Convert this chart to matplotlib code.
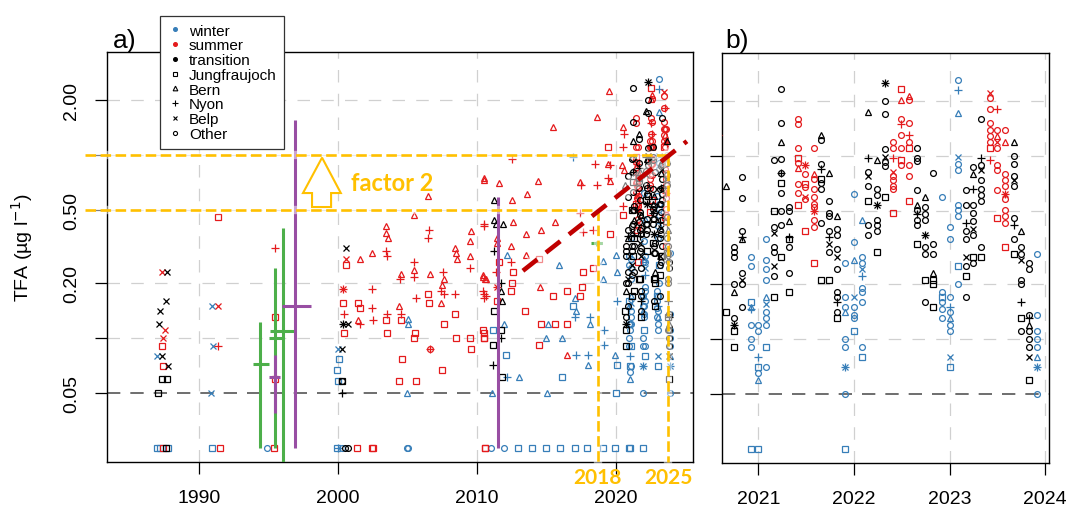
import matplotlib
matplotlib.use("Agg")
import matplotlib.pyplot as plt
from matplotlib.lines import Line2D
from matplotlib.patches import Polygon
import matplotlib.transforms as mtransforms

plt.rcParams["font.family"] = ["Liberation Sans", "DejaVu Sans"]

# site codes: J Jungfraujoch, B Bern, N Nyon, L Belp, O Other
# one entry per sampling column: year, TFA values (ug/l), site code per value

winter_year = [1986.96, 1987.2, 1987.8, 1990.84, 1990.9, 1990.96, 1991.03, 1994.86,
               1999.9, 2000.0, 2000.07, 2000.26, 2004.95, 2005.07, 2010.98, 2011.06,
               2011.13, 2011.94, 2012.09, 2012.13, 2012.97, 2013.05, 2013.98, 2014.96,
               2015.01, 2015.13, 2015.92, 2015.97, 2016.09, 2016.93, 2017.05, 2017.12,
               2017.94, 2018.01, 2018.13, 2019.09, 2019.14, 2019.93, 2020.0, 2020.05,
               2020.1, 2020.92, 2021.0, 2021.08, 2021.91, 2022.0, 2022.08, 2022.92,
               2023.0, 2023.09, 2023.92]
winter_tfa = [[0.08, 0.025], [0.025], [0.025], [0.05], [0.025], [0.15], [0.09], [0.025],
              [0.067, 0.025], [0.087, 0.058, 0.025], [0.077], [0.025], [0.05, 0.025],
              [0.127, 0.12, 0.025], [0.025], [0.05],
              [0.11], [0.12, 0.025], [0.081], [0.285, 0.061], [0.025], [0.061], [0.025],
              [0.10, 0.025],
              [0.05], [0.12], [0.25], [0.025], [0.10, 0.061], [0.97, 0.15],
              [0.165, 0.13, 0.025], [0.14, 0.081],
              [0.025], [0.081, 0.071], [0.13, 0.12], [0.265, 0.21, 0.025], [0.11, 0.092],
              [0.081, 0.025], [0.285, 0.05], [0.23, 0.16],
              [0.071],
              [0.28, 0.25, 0.16, 0.15, 0.145, 0.12, 0.10, 0.09, 0.025],
              [0.12, 0.11, 0.08, 0.07, 0.065, 0.06, 0.025],
              [0.35, 0.27, 0.24, 0.21, 0.17, 0.155, 0.14, 0.13, 0.12, 0.09, 0.07],
              [0.26, 0.17, 0.15, 0.14, 0.10, 0.09, 0.07, 0.07, 0.05, 0.025],
              [0.62, 0.34, 0.27, 0.17, 0.15, 0.135, 0.13, 0.11],
              [0.45, 0.28, 0.26, 0.24, 0.22, 0.19, 0.18, 0.16, 0.09, 0.08],
              [0.60, 0.18, 0.17, 0.16, 0.145, 0.13],
              [0.41, 0.35, 0.17, 0.15, 0.14, 0.13, 0.12, 0.11, 0.08, 0.07],
              [2.60, 2.30, 1.72, 0.99, 0.91, 0.84, 0.54, 0.51, 0.47, 0.25, 0.20],
              [0.29, 0.135, 0.11, 0.10, 0.09, 0.08, 0.07, 0.07, 0.05]]
winter_site = ["LJ", "J", "J", "L", "J", "L", "L", "O",
               "JJ", "LJN", "J", "O", "BO", "BBO", "O", "B",
               "J", "BO", "J", "BN", "J", "B", "J", "BJ",
               "B", "B", "B", "J", "BJ", "NJ", "BNJ", "BN",
               "J", "NB", "NB", "BBJ", "NN", "BJ", "BJ", "BN",
               "J", "OOJBNOOOJ", "OONJOBJ", "OOOOBLOOOJO", "OOOBOONLOJ", "OOBLOOOJ",
               "BOOLNOOOOJ", "OOJOOO", "OOONOBOOLJ", "ONBLOOOOOJO", "OOOOOBNLO"]

summer_year = [1987.32, 1987.37, 1987.44, 1987.56, 1991.39, 1991.4, 1991.5, 1995.38,
               1995.45, 2000.38, 2000.46, 2000.58, 2001.4, 2001.42, 2001.47, 2001.55,
               2001.6, 2002.43, 2002.55, 2003.46, 2003.5, 2003.56, 2004.42, 2004.47,
               2004.52, 2004.54, 2004.6, 2005.43, 2005.5, 2005.55, 2005.6, 2005.62,
               2006.44, 2006.51, 2006.59, 2007.43, 2007.48, 2007.55, 2007.6, 2007.64,
               2008.44, 2008.5, 2008.56, 2009.47, 2009.52, 2009.57, 2009.6, 2010.43,
               2010.46, 2010.48, 2010.5, 2010.53, 2010.58, 2010.6, 2010.65, 2011.37,
               2011.46, 2011.6, 2012.42, 2012.5, 2012.52, 2012.61, 2013.45, 2013.53,
               2013.62, 2014.41, 2014.48, 2014.53, 2014.58, 2015.44, 2015.49, 2015.61,
               2016.45, 2016.5, 2017.41, 2017.48, 2017.53, 2017.6, 2017.65, 2018.37,
               2018.49, 2018.61, 2019.45, 2019.52, 2019.57, 2020.41, 2020.48, 2020.53,
               2020.58, 2021.41, 2021.49, 2021.58, 2022.41, 2022.49, 2022.58, 2023.42,
               2023.50, 2023.58]
summer_tfa = [[0.23], [0.09], [0.10, 0.07, 0.025], [0.11], [0.15, 0.09], [0.46], [0.025], [0.025],
              [0.31, 0.13, 0.06], [0.185, 0.185, 0.155], [0.135, 0.107], [0.27, 0.25], [0.025],
              [0.126], [0.155], [0.12],
              [0.27, 0.145], [0.29, 0.185, 0.146, 0.025], [0.126, 0.025], [0.41, 0.375, 0.30, 0.126],
              [0.28, 0.135, 0.107], [0.35], [0.15, 0.058], [0.21],
              [0.126], [0.225, 0.135], [0.077], [0.47, 0.215, 0.10], [0.26, 0.235], [0.107],
              [0.058], [0.165],
              [0.60, 0.35, 0.175], [0.39, 0.155], [0.225, 0.087, 0.087], [0.18, 0.155],
              [0.195, 0.067], [0.23], [0.21, 0.12], [0.175],
              [0.31, 0.175, 0.135], [0.29, 0.10], [0.27], [0.34, 0.24, 0.10], [0.28], [0.087],
              [0.385], [0.215],
              [0.22, 0.18, 0.11], [0.73, 0.107], [0.75, 0.42, 0.10], [0.41, 0.175, 0.165, 0.10],
              [0.025], [0.21, 0.025], [0.21, 0.17], [0.23],
              [0.35, 0.33, 0.19, 0.19, 0.16], [0.70, 0.26], [0.32, 0.26, 0.18], [0.95],
              [0.57, 0.20], [0.43, 0.23], [0.14], [0.37, 0.285],
              [0.61], [0.72], [0.27, 0.092], [0.19], [0.39, 0.12], [0.17], [1.42], [0.43, 0.12],
              [0.12, 0.081], [0.18], [0.71, 0.48, 0.17], [0.69], [0.19], [0.23], [0.38],
              [0.39, 0.24],
              [0.89], [1.62, 0.69], [1.11, 0.89, 0.75], [2.24], [0.88, 0.72, 0.37], [0.88],
              [0.53], [1.42, 1.10, 0.47],
              [1.30, 0.83],
              [1.60, 1.49, 1.10, 0.97, 0.92, 0.86, 0.70, 0.63, 0.54],
              [0.89, 0.89, 0.80, 0.70, 0.68, 0.60, 0.58, 0.39],
              [1.10, 0.80, 0.75, 0.66, 0.60, 0.55, 0.53, 0.50, 0.50, 0.45, 0.41, 0.26],
              [1.20, 1.10, 0.98, 0.82, 0.78, 0.74, 0.69, 0.66, 0.49],
              [2.32, 2.02, 1.60, 1.49, 1.31, 1.10, 0.95, 0.89],
              [2.13, 2.02, 1.51, 1.31, 1.20, 1.10, 0.89, 0.78, 0.57],
              [2.22, 2.09, 1.80, 1.51, 1.39, 1.29, 1.20, 1.10, 0.95],
              [1.80, 1.39, 1.29, 1.20, 1.10, 0.89, 0.84, 0.65, 0.46],
              [1.39, 1.20, 0.80, 0.74, 0.69, 0.62, 0.62, 0.58, 0.51, 0.47, 0.43, 0.32]]
summer_site = ["L", "J", "LJJ", "L", "LN", "J", "J", "J",
               "NJJ", "NLJ", "NJ", "LJ", "J", "B", "J", "N",
               "BJ", "BNNJ", "NJ", "BBNJ", "NNJ", "B", "BJ", "N",
               "J", "BN", "J", "BNJ", "NB", "J", "J", "N",
               "BNJ", "NJ", "BON", "NB", "BJ", "N", "BJ", "N",
               "BNJ", "BJ", "B", "BNJ", "B", "J", "B", "B",
               "BNJ", "BJ", "BNJ", "NNNJ", "J", "BJ", "BN", "N",
               "BBNLJ", "BJ", "BNJ", "N", "BJ", "BJ", "J", "BB",
               "B", "B", "JJ", "B", "BJ", "J", "B", "BJ",
               "JB", "J", "BNJ", "N", "J", "J", "N", "NJ",
               "N", "BN", "JBN", "B", "NBJ", "B", "N", "BNJ",
               "NB", "OOOJOBOOJ", "NLOJOLOJ", "OBOOOOOLNOOJ", "OONLOOOOJ", "JBONOOJO",
               "BOONOJOOJ", "LOOOOOOJN", "NOBLOOOOJ", "OBOOONLOOOOJ"]

transition_year = [1987.08, 1987.13, 1987.2, 1987.32, 1987.6, 1987.63, 1987.68, 1987.8,
                   2000.26, 2000.38, 2000.5, 2000.58, 2000.75, 2011.13, 2011.22, 2011.37,
                   2011.7, 2011.77, 2011.8, 2011.85, 2020.66, 2020.74, 2020.83, 2021.16,
                   2021.24, 2021.32, 2021.66, 2021.74, 2021.82, 2022.15, 2022.24, 2022.32,
                   2022.66, 2022.74, 2022.83, 2023.17, 2023.25, 2023.33, 2023.67, 2023.75,
                   2023.83]
transition_tfa = [[0.05], [0.12], [0.14], [0.08, 0.06], [0.025], [0.16], [0.23, 0.06], [0.07],
                  [0.087, 0.058, 0.058, 0.05], [0.12, 0.12], [0.025], [0.31], [0.12, 0.025],
                  [0.092, 0.071], [0.57, 0.44, 0.30, 0.14], [0.42],
                  [0.20, 0.18, 0.11, 0.10], [0.061], [0.16], [0.42], [0.69, 0.14],
                  [0.32, 0.30, 0.28, 0.20, 0.18, 0.13, 0.12, 0.12, 0.11, 0.09],
                  [0.77, 0.59, 0.39, 0.36, 0.35, 0.23, 0.21, 0.20, 0.15],
                  [0.95, 0.50, 0.41, 0.38, 0.32, 0.30, 0.25, 0.22, 0.17],
                  [2.32, 1.51, 1.20, 0.96, 0.81, 0.81, 0.71, 0.63, 0.50, 0.42, 0.28],
                  [0.53, 0.50, 0.44, 0.36, 0.35, 0.32, 0.23, 0.18],
                  [1.31, 1.22, 0.90, 0.85, 0.75, 0.71, 0.66, 0.43, 0.21],
                  [0.81, 0.57, 0.49, 0.47, 0.39, 0.36, 0.33, 0.30, 0.21],
                  [0.47, 0.40, 0.37, 0.31, 0.28, 0.24, 0.18, 0.17, 0.16, 0.14, 0.13],
                  [1.74, 0.98, 0.82, 0.78, 0.69, 0.57, 0.42, 0.37],
                  [0.95, 0.66, 0.61, 0.54, 0.54, 0.45, 0.42, 0.39, 0.30],
                  [2.50, 2.50, 2.00, 1.70, 1.09, 0.99, 0.93, 0.88, 0.60],
                  [1.10, 0.98, 0.94, 0.65, 0.54, 0.51, 0.48, 0.45, 0.42, 0.33],
                  [0.60, 0.53, 0.48, 0.45, 0.37, 0.37, 0.32, 0.29, 0.21, 0.16],
                  [0.81, 0.33, 0.29, 0.23, 0.21, 0.20, 0.15],
                  [0.65, 0.54, 0.43, 0.39, 0.35, 0.28, 0.25, 0.22, 0.17],
                  [0.87, 0.80, 0.66, 0.54, 0.49, 0.44, 0.40, 0.37, 0.28, 0.26],
                  [1.60, 0.98, 0.89, 0.84, 0.74, 0.66, 0.61, 0.57, 0.32, 0.28],
                  [1.20, 1.00, 0.90, 0.78, 0.74, 0.69, 0.46, 0.42, 0.35, 0.29],
                  [0.39, 0.32, 0.29, 0.27, 0.21, 0.20, 0.16, 0.13, 0.11],
                  [0.26, 0.24, 0.135, 0.13, 0.12, 0.11, 0.10, 0.09, 0.08, 0.06]]
transition_site = ["J", "L", "L", "LJ", "J", "L", "LJ", "L",
                   "LJON", "NL", "O", "L", "LO", "JN", "BBNJ", "B",
                   "NBJN", "J", "B", "B", "BJ", "OOOOBONLJJ", "OOONBOLOO", "OJOLOOLOJ",
                   "OOBONOJOOOJ", "OOBNJOOJ", "BOONJOOOJ", "BOOOONLOJ", "BOOOLOOONOJ",
                   "BNOLOJOO", "BOONLOOOJ", "NLOOOLOOJ", "OOOOBONOOJ", "BOOONLOOJO",
                   "OOOBJJJ", "OONOOLOJO", "OBNOOOLOJO", "ONOLOOOOOJ", "BOOOLOONOJ",
                   "BOOLOONJO", "OOONBOOOLJ"]

# literature ranges (vertical extent, horizontal tick at the central value)
lit_year = [1994.4, 1995.5, 1996.04, 1996.9, 1995.5, 2011.5, 2018.6]
lit_lo = [0.025, 0.025, 0.015, 0.025, 0.039, 0.025, 0.32]
lit_hi = [0.122, 0.242, 0.40, 1.55, 0.081, 0.59, 0.34]
lit_mid = [0.072, 0.10, 0.109, 0.15, 0.061, None, 0.33]
lit_x0 = [1993.9, 1995.0, 1995.1, 1996.0, 1995.0, None, 2018.2]
lit_x1 = [1995.0, 1996.0, 1996.9, 1998.06, 1995.8, None, 2019.0]
lit_colour = ["#4DAF4A", "#4DAF4A", "#4DAF4A", "#984EA3", "#984EA3", "#984EA3", "#4DAF4A"]

# trend line and the factor-2 markings
trend_year = [2013.3, 2025.1]
trend_tfa = [0.233, 1.19]
factor_start = 1981.8
factor_end_low = 2018.7
factor_end_high = 2023.74

blue, red = "#377EB8", "#E41A1C"
gold = "#FFC000"
seasons = [(winter_year, winter_tfa, winter_site, blue),
           (summer_year, summer_tfa, summer_site, red),
           (transition_year, transition_tfa, transition_site, "black")]
site_marker = {"J": ("s", 4.0), "B": ("^", 4.8), "N": ("+", 5.5), "L": ("x", 4.2), "O": ("o", 4.2)}

YLIM = (0.021, 3.66)
ytick_vals = [0.05, 0.1, 0.2, 0.5, 1.0, 2.0]
grid_ls = (0, (10, 9))


def draw_points(ax):
    for years, tfa, sites, colour in seasons:
        assert len(years) == len(tfa) == len(sites)
        xs = {c: [] for c in site_marker}
        ys = {c: [] for c in site_marker}
        for yr, vals, codes in zip(years, tfa, sites):
            assert len(vals) == len(codes), (yr, vals, codes)
            for v, c in zip(vals, codes):
                xs[c].append(yr)
                ys[c].append(v)
        for c, (m, ms) in site_marker.items():
            ax.plot(xs[c], ys[c], linestyle="none", marker=m, ms=ms, mec=colour,
                    mfc="none", mew=0.9, zorder=3)


def style_axes(ax, xticks, ylabels):
    ax.set_yscale("log")
    ax.set_ylim(*YLIM)
    ax.set_xticks(xticks)
    ax.set_xticklabels([str(t) for t in xticks])
    ax.set_yticks(ytick_vals)
    ax.set_yticks([], minor=True)
    ax.set_yticklabels(ylabels if ylabels else [""] * len(ytick_vals))
    ax.tick_params(direction="out", length=8.5, width=0.9, labelsize=14, pad=11)
    ax.tick_params(axis="y", labelrotation=90)
    for lab in ax.get_yticklabels():
        lab.set_va("center")
    for t in xticks:
        ax.axvline(t, color="#d0d0d0", lw=0.9, ls=grid_ls, zorder=0)
    for v in [0.1, 0.2, 0.5, 1.0, 2.0]:
        ax.axhline(v, color="#d0d0d0", lw=0.9, ls=grid_ls, zorder=0)
    ax.axhline(0.05, color="#555555", lw=1.2, ls=(0, (8, 6)), zorder=1)
    for s in ax.spines.values():
        s.set_linewidth(1.0)


fig = plt.figure(figsize=(10.67, 5.06), dpi=100)
ax_a = fig.add_axes([0.1003, 0.0850, 0.5492, 0.8103])
ax_b = fig.add_axes([0.6767, 0.0830, 0.3064, 0.8103])

# ---- panel a
style_axes(ax_a, [1990, 2000, 2010, 2020], ["0.05", "", "0.20", "0.50", "", "2.00"])
ax_a.set_xlim(1983.38, 2025.54)
draw_points(ax_a)

for x, lo, hi, mid, x0, x1, col in zip(lit_year, lit_lo, lit_hi, lit_mid, lit_x0, lit_x1, lit_colour):
    ax_a.plot([x, x], [lo, hi], color=col, lw=2.2, solid_capstyle="butt", zorder=4)
    if mid is not None:
        ax_a.plot([x0, x1], [mid, mid], color=col, lw=2.2, solid_capstyle="butt", zorder=4)

# factor-2 lines (white haze underneath, as in the original)
gold_lines = [([factor_start, factor_end_high], [1.0, 1.0]),
              ([factor_start, factor_end_low], [0.5, 0.5]),
              ([factor_end_low, factor_end_low], [0.5, YLIM[0]]),
              ([factor_end_high, factor_end_high], [1.0, YLIM[0]])]
for xs, ys in gold_lines:
    ax_a.plot(xs, ys, color="white", lw=6, alpha=0.5, zorder=4.5, clip_on=False)
    ax_a.plot(xs, ys, color=gold, lw=1.9, ls=(0, (4, 1.7)), zorder=5, clip_on=False)

ax_a.plot(trend_year, trend_tfa, color="white", lw=10, alpha=0.5, zorder=4.5,
          solid_capstyle="butt")
ax_a.plot(trend_year, trend_tfa, color="#C00000", lw=3.3, ls=(0, (4.0, 2.4)), zorder=5,
          clip_on=False)

arrow = Polygon([(1998.85, 0.968), (1997.48, 0.62), (1998.13, 0.62), (1998.13, 0.52),
                 (1999.5, 0.52), (1999.5, 0.62), (2000.2, 0.62)], closed=True,
                facecolor="white", edgecolor=gold, lw=1.5, zorder=6)
ax_a.add_patch(arrow)
ax_a.text(2000.9, 0.71, "factor 2", color=gold, fontsize=17, fontweight="bold",
          family=["Lato", "DejaVu Sans"], ha="left", va="center", zorder=7)

trans = mtransforms.blended_transform_factory(ax_a.transData, ax_a.transAxes)
for yr, lab in [(factor_end_low, "2018"), (factor_end_high, "2025")]:
    ax_a.text(yr, -0.037, lab, transform=trans, color=gold, fontsize=15, fontweight="bold",
              family=["Lato", "DejaVu Sans"], ha="center", va="center", clip_on=False)

# ---- panel b
style_axes(ax_b, [2021, 2022, 2023, 2024], None)
ax_b.set_xlim(2020.62, 2024.04)
draw_points(ax_b)

fig.text(113 / 1067, 1 - 53 / 506, "a)", fontsize=19, ha="left", va="bottom")
fig.text(725 / 1067, 1 - 53 / 506, "b)", fontsize=19, ha="left", va="bottom")
fig.text(0.021, 0.51, "TFA (µg l$^{-1}$)", rotation=90, fontsize=14, ha="center", va="center")

handles = [Line2D([], [], ls="none", marker="o", ms=2.6, color=blue),
           Line2D([], [], ls="none", marker="o", ms=2.6, color=red),
           Line2D([], [], ls="none", marker="o", ms=2.6, color="black")]
for c in "JBNLO":
    m, ms = site_marker[c]
    handles.append(Line2D([], [], ls="none", marker=m, ms=ms * 0.7, mfc="none",
                          mec="black", mew=0.8))
labels = ["winter", "summer", "transition", "Jungfraujoch", "Bern", "Nyon", "Belp", "Other"]
leg = ax_a.legend(handles, labels, loc="upper left", bbox_to_anchor=(160 / 1067, 1 - 17 / 506),
                  bbox_transform=fig.transFigure, borderaxespad=0, fontsize=11,
                  labelspacing=0.05, handlelength=0.9, handletextpad=0.5, borderpad=0.5,
                  fancybox=False, framealpha=1, edgecolor="#333333")
leg.get_frame().set_linewidth(0.9)
leg.set_zorder(10)

fig.savefig("out.png", dpi=100)
